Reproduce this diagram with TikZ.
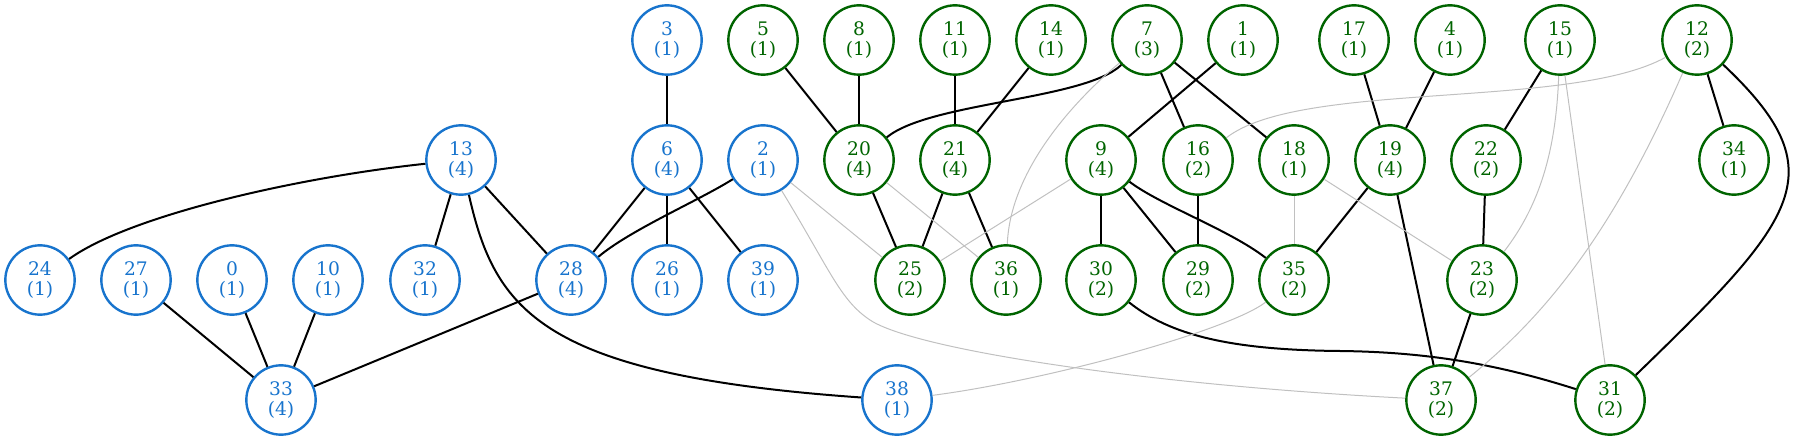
\documentclass[tikz,border=0pt]{standalone}
\usepackage{fontspec}
\setmainfont{DejaVu Serif}
\usetikzlibrary{positioning}
\definecolor{azulnodo}{HTML}{1874CD}
\definecolor{verdenodo}{HTML}{006400}
\definecolor{gris}{HTML}{C0C0C0}

\begin{document}
\begin{tikzpicture}[x = .75pt, y = -.75pt,
        nodo/.style = {circle, draw, line width=1.8pt, minimum size=52pt, inner sep=0pt,
                       align=center, font=\fontsize{14}{15}\selectfont},
        azul/.style = {nodo, draw=azulnodo, text=azulnodo},
        verde/.style = {nodo, draw=verdenodo, text=verdenodo},
        fuerte/.style = {black, line width=1.5pt},
        tenue/.style = {gris, line width=.75pt}]
        \useasboundingbox (0,0) rectangle (1797,441);
        \foreach \n/\x/\y/\c in {3/667/40/1, 13/461/160/4, 6/667/160/4, 2/763/160/1,
                                 24/40/280/1, 27/136/280/1, 0/232/280/1, 10/328/280/1, 32/425/280/1,
                                 28/571/280/4, 26/667/280/1, 39/763/280/1, 33/281/400/4, 38/897/400/1}   % Nodos azules
            \node[azul] (n\n) at (\x,\y) {\n\\(\c)};
        \foreach \n/\x/\y/\c in {5/763/40/1, 8/859/40/1, 11/955/40/1, 14/1051/40/1, 7/1147/40/3,
                                 1/1243/40/1, 17/1354/40/1, 4/1450/40/1, 15/1560/40/1, 12/1697/40/2,
                                 20/859/160/4, 21/955/160/4, 9/1101/160/4, 16/1198/160/2, 18/1294/160/1,
                                 19/1390/160/4, 22/1486/160/2, 34/1734/160/1,
                                 25/910/280/2, 36/1006/280/1, 30/1101/280/2, 29/1198/280/2, 35/1294/280/2,
                                 23/1482/280/2, 37/1441/400/2, 31/1610/400/2}                               % Nodos verdes
            \node[verde] (n\n) at (\x,\y) {\n\\(\c)};
        \foreach \a/\b in {13/32, 13/28, 27/33, 0/33, 10/33, 28/33, 3/6, 6/28, 6/26, 6/39,
                           5/20, 8/20, 11/21, 14/21, 20/25, 21/25, 21/36, 7/16, 7/18, 1/9,
                           9/30, 9/29, 16/29, 17/19, 4/19, 19/35, 19/37, 15/22, 22/23, 23/37, 12/34}   % Aristas rectas
            \draw[fuerte] (n\a) -- (n\b);
        \foreach \a/\b in {2/25, 20/36, 9/25, 18/35, 18/23, 15/31}                                      % Aristas grises
            \draw[tenue] (n\a) -- (n\b);
        % Aristas curvas
        \draw[fuerte] (n13) .. controls (300,177) and (130,215) .. (n24);
        \draw[fuerte] (n13) .. controls (495,310) and (540,375) .. (n38);
        \draw[fuerte] (n2) .. controls (700,200) and (630,230) .. (n28);
        \draw[fuerte] (n7) .. controls (1085,100) and (930,102) .. (n20);
        \draw[fuerte] (n9) .. controls (1160,205) and (1230,230) .. (n35);
        \draw[fuerte] (n30) .. controls (1170,335) and (1230,350) .. (1340,351)
                            .. controls (1430,352) and (1500,365) .. (n31);
        \draw[fuerte] (n12) .. controls (1837,172) and (1799,217) .. (n31);
        \draw[tenue] (n2) .. controls (830,270) and (840,300) .. (870,320)
                          .. controls (915,350) and (1150,385) .. (n37);
        \draw[tenue] (n7) .. controls (1075,100) and (1010,170) .. (n36);
        \draw[tenue] (n12) .. controls (1570,110) and (1300,80) .. (n16);
        \draw[tenue] (n15) .. controls (1556,150) and (1540,205) .. (n23);
        \draw[tenue] (n12) .. controls (1610,240) and (1540,320) .. (n37);
        \draw[tenue] (n35) .. controls (1230,330) and (1050,380) .. (n38);
\end{tikzpicture}
\end{document}
